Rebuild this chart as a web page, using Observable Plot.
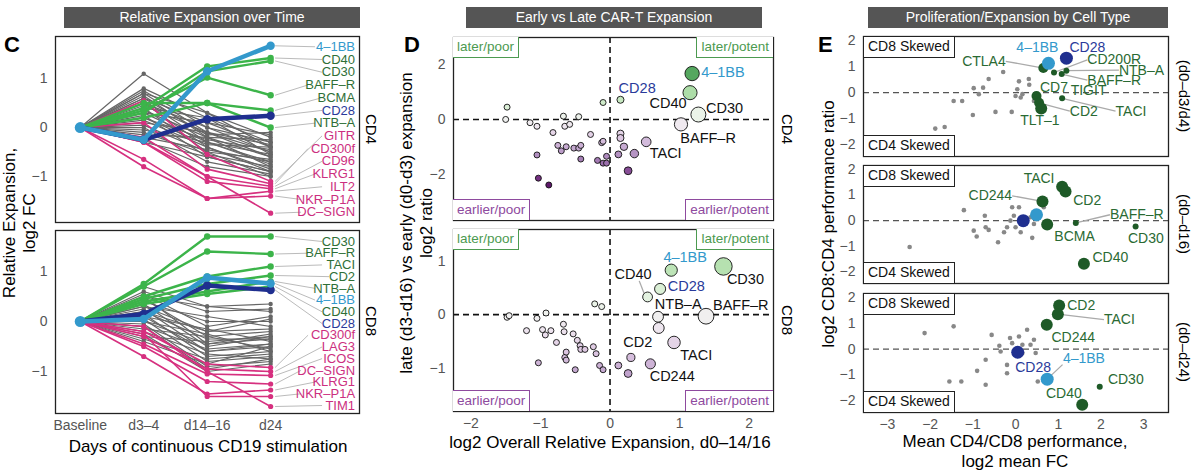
<!DOCTYPE html>
<html><head><meta charset="utf-8">
<script src="https://cdn.jsdelivr.net/npm/d3@7"></script>
<script src="https://cdn.jsdelivr.net/npm/@observablehq/plot@0.6"></script>
<style>
body{margin:0;background:#fff;font-family:"Liberation Sans",Arial,sans-serif;}
#c{position:relative;width:1200px;height:474px;overflow:hidden;}
.ab{position:absolute;white-space:nowrap;}
.bar{position:absolute;background:#555;color:#fff;font-size:14px;text-align:center;line-height:21px;height:21px;}
.rot{position:absolute;transform-origin:center center;white-space:nowrap;text-align:center;}
.box{position:absolute;background:#fff;font-size:13.5px;line-height:19px;padding:0 4px;box-sizing:border-box;height:21px;white-space:nowrap;}
svg{overflow:visible}
</style></head><body><div id="c"></div>
<script>
const font = '"Liberation Sans", Arial, sans-serif';
// ---------- DATA ----------
const days = ["Baseline","d3–4","d14–16","d24"];
// Panel C, CD4
const cd4Names  = ["4–1BB","CD40","CD30","BAFF–R","BCMA","CD28","NTB–A","GITR","CD300f","CD96","KLRG1","ILT2","NKR–P1A","DC–SIGN"];
const cd4Groups = ["blue","green","green","green","green","navy","green","mag","mag","mag","mag","mag","mag","mag"];
const cd4Values = [[0,-0.25,1.15,1.67],[0,0.4,1.25,1.42],[0,0.3,1.15,1.36],[0,0.35,1.02,0.66],[0,0.2,0.5,0.35],[0,-0.25,0.17,0.24],[0,0.5,0.5,0.0],
 [0,0.55,-0.55,-1.1],[0,0.1,-0.85,-1.15],[0,-0.2,-1.0,-1.2],[0,-0.3,-1.1,-1.25],[0,-0.65,-1.45,-1.3],[0,-0.8,-1.45,-1.4],[0,-0.3,-1.0,-1.75]];
const cd4Gray = [[1.1,0.3,-0.4],[0.8,0.2,-0.3],[0.75,0.0,-0.5],[0.7,-0.1,-0.6],[0.7,0.3,-0.2],[0.65,-0.2,-0.8],[0.6,0.1,-0.4],[0.55,-0.3,-0.7],[0.5,-0.4,-0.9],[0.5,0.0,-0.3],[0.45,-0.1,-0.5],[0.4,-0.5,-1.0],[0.35,-0.2,-0.6],[0.3,-0.3,-0.75],[0.3,0.1,-0.15],[0.25,-0.6,-0.9],[0.2,-0.25,-0.45],[0.15,-0.4,-0.85],[0.1,-0.1,-0.35],[0.05,-0.5,-0.65],[0.0,-0.7,-0.95],[-0.05,-0.3,-0.55],[-0.1,-0.55,-0.8],[-0.15,-0.2,-0.25],[-0.2,-0.45,-0.7],[-0.25,-0.8,-1.0],[-0.3,-0.6,-0.9],[0.6,-0.15,-0.1],[0.4,0.2,-0.55],[0.2,-0.35,-0.4]];
// Panel C, CD8
const cd8Names  = ["CD30","BAFF–R","TACI","CD2","NTB–A","4–1BB","CD40","CD28","CD300f","LAG3","ICOS","DC–SIGN","KLRG1","NKR–P1A","TIM1"];
const cd8Groups = ["green","green","green","green","green","blue","green","navy","mag","mag","mag","mag","mag","mag","mag"];
const cd8Values = [[0,0.75,1.7,1.7],[0,0.7,1.4,1.35],[0,0.5,0.9,1.1],[0,0.45,0.75,0.92],[0,0.4,0.6,0.8],[0,0.05,0.88,0.76],[0,0.35,0.55,0.7],[0,0.15,0.72,0.63],
 [0,-0.2,-0.85,-0.92],[0,-0.3,-0.95,-1.0],[0,-0.45,-1.05,-1.08],[0,-0.5,-1.2,-1.25],[0,-0.7,-1.45,-1.37],[0,-0.25,-1.5,-1.5],[0,-0.1,-1.0,-1.7]];
const cd8Gray = [[0.7,0.3,0.35],[0.6,0.2,0.25],[0.55,-0.1,0.1],[0.5,0.3,0.2],[0.45,-0.3,-0.2],[0.4,0.0,0.0],[0.35,-0.5,-0.3],[0.3,-0.2,-0.15],[0.25,-0.6,-0.5],[0.2,-0.35,-0.35],[0.15,-0.7,-0.6],[0.1,-0.15,-0.4],[0.05,-0.8,-0.7],[0.0,-0.45,-0.25],[-0.05,-0.9,-0.8],[-0.1,-0.55,-0.45],[-0.15,-0.3,-0.55],[-0.2,-0.65,-0.75],[-0.25,-1.0,-0.85],[-0.3,-0.4,-0.3],[-0.35,-0.75,-0.65],[-0.4,-0.85,-0.5],[0.3,0.1,-0.1],[0.2,-0.2,0.05],[0.1,-0.6,-0.45],[0.0,-0.25,-0.6],[0.5,-0.45,-0.35],[-0.1,-0.95,-0.75]];
// Panel D: [x, y]
const dCD4 = [[1.18,1.68],[1.15,0.98],[1.27,0.18],[1.02,-0.18],[0.52,-0.82],[0.15,0.72],[-0.1,0.62],[-1.48,0.45],[-1.5,0.0],[-1.15,-0.12],[-1.05,-0.25],[-0.67,0.12],[-0.65,-0.25],[-0.58,-0.18],[-0.45,0.1],[-0.82,-0.48],[-0.75,-0.95],[-0.7,-1.15],[-0.63,-1.0],[-0.52,-1.05],[-0.45,-1.05],[-0.42,-0.95],[-0.28,-0.55],[-0.12,-0.85],[-0.1,-0.8],[0.15,-0.52],[0.15,-0.68],[0.2,-1.0],[0.12,-1.28],[0.35,-1.25],[-0.18,-1.5],[-0.1,-1.6],[-0.05,-1.6],[-0.05,-1.35],[-0.42,-1.45],[-1.05,-1.3],[-1.03,-2.15],[-0.88,-2.4],[0.26,-1.88]];
const dCD8 = [[1.63,0.9],[0.88,0.83],[0.72,0.48],[0.54,0.33],[0.69,-0.04],[1.38,-0.03],[0.7,-0.25],[0.92,-0.52],[0.58,-0.92],[0.3,-0.8],[0.26,-1.1],[0.12,-0.95],[-0.22,0.2],[-0.12,0.15],[-1.48,-0.05],[-1.45,-0.02],[-1.05,-0.07],[-0.92,0.03],[-1.2,-0.3],[-0.97,-0.28],[-0.93,-0.38],[-0.85,-0.3],[-0.77,-0.52],[-0.67,-0.18],[-0.66,-0.32],[-0.63,-0.7],[-0.65,-0.8],[-0.63,-0.85],[-0.53,-0.36],[-0.47,-0.48],[-0.43,-0.58],[-0.42,-0.65],[-0.36,-0.65],[-0.24,-0.6],[-0.2,-0.73],[-0.15,-0.95],[-0.1,-1.03],[-0.5,-1.03],[-1.03,-0.9]];
// Panel E: [x, y, kind]  g=other, s/M/L=green small/medium/large, b=4-1BB, n=CD28
const e1 = [[-1.88,-1.38,"g"],[-1.66,-1.32,"g"],[-1.45,-0.32,"g"],[-1.25,-0.32,"g"],[-1.0,-0.86,"g"],[-0.98,0.17,"g"],[-0.86,-0.06,"g"],[-0.76,0.19,"g"],[-0.63,0.52,"g"],[-0.47,-0.74,"g"],[-0.29,0.79,"g"],[-0.09,-0.74,"g"],[0.08,0.43,"g"],[0.04,0.13,"g"],[0,-0.13,"g"],[0.12,-0.19,"g"],[0.16,-0.06,"g"],[0.31,0.52,"g"],[0.32,0.3,"g"],[0.43,-0.32,"g"],
 [0.65,0.94,"M"],[0.9,0.77,"s"],[1.19,0.84,"s"],[1.08,0.71,"s"],[0.49,-0.13,"M"],[0.53,-0.26,"s"],[1.09,-0.22,"s"],[0.55,-0.39,"M"],[0.6,-0.61,"L"],[0.77,1.12,"b"],[1.19,1.32,"n"]];
const e2 = [[-2.48,-1.03,"g"],[-1.21,0.41,"g"],[-0.98,-0.39,"g"],[-0.91,-0.62,"g"],[-0.72,0.19,"g"],[-0.7,-0.26,"g"],[-0.63,-0.36,"g"],[-0.41,-0.84,"g"],[-0.27,-0.45,"g"],[-0.2,-0.26,"g"],[-0.12,0,"g"],[-0.04,0.19,"g"],[0.08,0.52,"g"],[-0.08,0.52,"g"],[0.12,-0.45,"g"],[0.39,-0.67,"g"],[0.43,-0.13,"g"],[0.66,0.52,"g"],[0.35,0.13,"g"],[0,-0.26,"g"],
 [1.09,1.32,"L"],[1.17,1.14,"L"],[0.63,0.75,"L"],[0.74,-0.15,"L"],[1.41,-0.09,"s"],[2.81,-0.23,"s"],[1.6,-1.68,"L"],[0.49,0.23,"b"],[0.18,0.0,"n"]];
const e3 = [[-2.13,0.62,"g"],[-1.45,0.88,"g"],[-1.55,-1.25,"g"],[-1.27,-1.25,"g"],[-0.9,-0.84,"g"],[-0.7,-0.41,"g"],[-0.7,-1.38,"g"],[-0.56,0.55,"g"],[-0.38,0.13,"g"],[-0.35,-0.09,"g"],[-0.2,-0.61,"g"],[-0.2,-0.93,"g"],[-0.13,0.43,"g"],[-0.08,0.23,"g"],[0.08,0.49,"g"],[0.16,-0.15,"g"],[0.27,0.75,"g"],[0.35,0.17,"g"],[0.43,0.36,"g"],[0.47,-0.15,"g"],[0.52,-1.25,"g"],[0.16,0.17,"g"],
 [1.02,1.69,"L"],[0.99,1.35,"L"],[0.73,0.94,"L"],[1.97,-1.45,"s"],[1.56,-2.15,"L"],[0.74,-1.16,"b"],[0.05,-0.12,"n"]];
// ---------- LAYOUT (labels) ----------
const dLab4 = [["4–1BB",1.31,1.72,"start","b"],["CD28",0.39,1.13,"middle","n"],["CD40",1.1,0.6,"end","k"],["CD30",1.38,0.4,"start","k"],["BAFF–R",1.01,-0.68,"start","k"],["TACI",0.57,-1.23,"start","k"]];
const dLab8 = [["4–1BB",1.08,1.07,"middle","b"],["CD40",0.33,0.76,"middle","k",0.5,0.36,0.42,0.63],["CD28",0.83,0.52,"start","n"],["NTB–A",0.98,0.19,"middle","k"],["BAFF–R",1.48,0.17,"start","k"],["CD30",1.68,0.65,"start","k"],["CD2",0.4,-0.51,"middle","k"],["TACI",1.01,-0.76,"start","k"],["CD244",0.57,-1.16,"start","k"]];
const eLab1 = [["4–1BB",0.51,1.72,"middle","b"],["CD28",1.68,1.72,"middle","n"],["CTLA4",-0.23,1.2,"end","s",0.65,0.94],["CD200R",1.68,1.25,"start","s",0.9,0.77],["NTB–A",2.42,0.86,"start","s",1.19,0.84],["BAFF–R",1.68,0.48,"start","s",1.08,0.71],["CD7",0.57,0.19,"start","s"],["TIGIT",1.29,0.09,"start","s"],["CD2",1.27,-0.71,"start","s",0.55,-0.39],["TACI",2.34,-0.71,"start","s",1.09,-0.22],["TLT–1",0.57,-1.07,"middle","s"]];
const eLab2 = [["TACI",0.55,1.65,"middle","s"],["CD2",1.35,0.8,"start","s"],["CD244",-0.08,0.97,"end","s",0.63,0.75],["BAFF–R",2.21,0.23,"start","s",1.41,-0.09],["BCMA",1.38,-0.61,"middle","s"],["CD30",3.05,-0.68,"middle","s"],["CD40",1.8,-1.45,"start","s"]];
const eLab3 = [["CD2",1.21,1.69,"start","s"],["TACI",2.07,1.14,"start","s",0.99,1.35],["CD244",1.35,0.46,"middle","s"],["4–1BB",1.6,-0.37,"middle","b",0.74,-1.16,1.1,-0.6],["CD28",0.41,-0.71,"middle","n"],["CD30",2.58,-1.19,"middle","s"],["CD40",1.13,-1.7,"middle","s"]];

// ---------- HELPERS ----------
const C = document.getElementById("c");
function div(cls, html, css){const d=document.createElement("div");d.className=cls;d.innerHTML=html;Object.assign(d.style,css);C.appendChild(d);return d;}
function place(box, opts, marks){
  const m={l:44,r:12,t:6,b:30};
  const [x0,y0,x1,y1]=box;
  const p=Plot.plot(Object.assign({width:x1-x0+m.l+m.r,height:y1-y0+m.t+m.b,marginLeft:m.l,marginRight:m.r,marginTop:m.t,marginBottom:m.b,
    style:{fontFamily:font,fontSize:"14px",background:"transparent",overflow:"visible"}},opts,{marks:[...marks,Plot.frame({stroke:"#222",strokeWidth:1.3})]}));
  Object.assign(p.style,{position:"absolute",left:(x0-m.l)+"px",top:(y0-m.t)+"px"});
  C.appendChild(p);
}
const intF=d=>d<0?"−"+(-d):String(d);
const axY=(t)=>Plot.axisY(t,{tickSize:0,tickPadding:8,color:"#555",fontSize:14,tickFormat:intF});
const axX=(t,f)=>Plot.axisX(t,{tickSize:0,tickPadding:7,color:"#555",fontSize:14,tickFormat:f});
const colC={gray:"#666",green:"#3cb44a",mag:"#d6307f",blue:"#3399cc",navy:"#1f2f8f"};
const txtC={green:"#2f6f37",mag:"#cc2f80",blue:"#3399cc",navy:"#2a3a9a",k:"#111",b:"#3399cc",n:"#2a3a9a",s:"#2a6a33"};

function panelC(box, yd, names, groups, vals, gray, lyTop, lyBot, showX){
  const rows=[];
  gray.forEach((g,k)=>[0,...g].forEach((v,i)=>rows.push({id:"g"+k,i,v,grp:"gray"})));
  vals.forEach((g,k)=>g.forEach((v,i)=>rows.push({id:names[k],i,v,grp:groups[k]})));
  const xd=[-0.39,4.4]; const kx=(box[2]-box[0])/(xd[1]-xd[0]);
  const n=names.length;
  const labs=names.map((nm,k)=>{const ly=lyTop+(lyBot-lyTop)*k/(n-1); const w=nm.length*7;
    return {nm,ly,v:vals[k][3],grp:groups[k],x2:4.33-(w+5)/kx};});
  const byG=g=>rows.filter(r=>r.grp===g);
  const marks=[];
  marks.push(Plot.link(labs,{x1:3.07,y1:"v",x2:"x2",y2:"ly",stroke:"#bbb",strokeWidth:1}));
  const sty={gray:[1.2,2.2],mag:[1.6,2.6],green:[2.4,3.2],navy:[4.5,4.2],blue:[4.5,4.2]};
  for(const g of ["gray","mag","green","navy","blue"]){
    const d=byG(g);
    marks.push(Plot.line(d,{x:"i",y:"v",z:"id",stroke:colC[g],strokeWidth:sty[g][0]}));
    marks.push(Plot.dot(d.filter(r=>r.i>0),{x:"i",y:"v",fill:colC[g],r:sty[g][1]}));
  }
  marks.push(Plot.dot([0],{x:0,y:0,fill:"#3399cc",r:5.5}));
  marks.push(Plot.text(labs,{x:4.33,y:"ly",text:"nm",textAnchor:"end",fill:d=>txtC[d.grp],fontSize:13}));
  marks.push(axY([-1,0,1]));
  if(showX) marks.push(axX([0,1,2,3],d=>days[d]));
  place(box,{x:{domain:xd,axis:null},y:{domain:yd,axis:null},color:{type:"identity"}},marks);
}
panelC([55,36,359,222],[-1.94,1.86],cd4Names,cd4Groups,cd4Values,cd4Gray,1.65,-1.73,false);
panelC([55,230,359,413],[-1.84,1.82],cd8Names,cd8Groups,cd8Values,cd8Gray,1.6,-1.68,true);

function labelMarks(labs){
  const withL=labs.filter(l=>l.length>5);
  return [Plot.link(withL,{x1:d=>d[5],y1:d=>d[6],x2:d=>d[7]??d[1],y2:d=>d[8]??d[2],stroke:"#aaa",strokeWidth:1.3})];
}
function labelText(labs,size){
  return ["start","middle","end"].map(a=>Plot.text(labs.filter(l=>l[3]===a),{x:d=>d[1],y:d=>d[2],text:d=>d[0],textAnchor:a,fill:d=>txtC[d[4]],fontSize:size}));
}
function panelD(box, yd, pts, labs, yt, showX){
  const marks=[
    Plot.ruleY([0],{stroke:"#111",strokeWidth:1.6,strokeDasharray:"6,4"}),
    Plot.ruleX([0],{stroke:"#111",strokeWidth:1.6,strokeDasharray:"6,4"}),
    ...labelMarks(labs),
    Plot.dot(pts,{x:d=>d[0],y:d=>d[1],r:d=>d[0],fill:d=>d[1],stroke:"#111",strokeWidth:0.9,sort:d=>d[0]}),
    ...labelText(labs,14.5),
    axY(yt)];
  if(showX) marks.push(axX([-2,-1,0,1,2],intF));
  place(box,{x:{domain:[-2.25,2.35],axis:null},y:{domain:yd,axis:null},
    r:{type:"linear",domain:[0,1.7],range:[3,9],clamp:true},
    color:{type:"diverging",scheme:"PRGn",domain:[-2.7,2.7],pivot:0}},marks);
}
panelD([453,37,773,220],[-3.7,3.0],dCD4,dLab4,[-2,0,2],false);
panelD([453,229,773,411],[-1.81,1.59],dCD8,dLab8,[-1,0,1],true);

const eCol={g:"#888",s:"#1e5a27",M:"#1e5a27",L:"#1e5a27",b:"#3399cc",n:"#1f2f8f"};
const eR={g:2.3,s:3,M:5,L:6,b:6.5,n:6.5};
function panelE(box, pts, labs, showX){
  const order=k=>"gsMLbn".indexOf(k);
  const marks=[
    Plot.ruleY([0],{stroke:"#555",strokeWidth:1.4,strokeDasharray:"6,4"}),
    ...labelMarks(labs),
    Plot.dot(pts,{x:d=>d[0],y:d=>d[1],fill:d=>eCol[d[2]],r:d=>eR[d[2]],sort:d=>order(d[2])}),
    ...labelText(labs,14),
    axY([-2,-1,0,1,2])];
  if(showX) marks.push(axX([-3,-2,-1,0,1,2,3],intF));
  place(box,{x:{domain:[-3.56,3.58],axis:null},y:{domain:[-2.45,2.15],axis:null},r:{type:"identity"},color:{type:"identity"}},marks);
}
panelE([863,36,1168,156],e1,eLab1,false);
panelE([863,165,1168,283],e2,eLab2,false);
panelE([863,293,1168,412],e3,eLab3,true);

// ---------- TEXT / ANNOTATIONS ----------
div("bar","Relative Expansion over Time",{left:"64px",top:"7px",width:"296px"});
div("bar","Early vs Late CAR-T Expansion",{left:"466px",top:"7px",width:"296px"});
div("bar","Proliferation/Expansion by Cell Type",{left:"868px",top:"7px",width:"300px"});
for(const [t,x] of [["C",4],["D",404],["E",818]]) div("ab",t,{left:x+"px",top:"32px",fontSize:"22px",fontWeight:"bold"});
div("ab","Days of continuous CD19 stimulation",{left:"25px",top:"437px",width:"366px",textAlign:"center",fontSize:"17px"});
div("ab","log2 Overall Relative Expansion, d0–14/16",{left:"420px",top:"433px",width:"380px",textAlign:"center",fontSize:"17px"});
div("ab","Mean CD4/CD8 performance,<br>log2 mean FC",{left:"835px",top:"432px",width:"360px",textAlign:"center",fontSize:"17px",lineHeight:"20px"});
div("rot","Relative Expansion,<br>log2 FC",{left:"-110px",top:"203px",width:"260px",fontSize:"17px",lineHeight:"20px",transform:"rotate(-90deg)"});
div("rot","late (d3-d16) vs early (d0-d3) expansion<br>log2 ratio",{left:"252px",top:"203px",width:"330px",fontSize:"17px",lineHeight:"20px",transform:"rotate(-90deg)"});
div("rot","log2 CD8:CD4 performance ratio",{left:"684px",top:"214px",width:"290px",fontSize:"17px",transform:"rotate(-90deg)"});
for(const [t,x,y] of [["CD4",371,129],["CD8",371,321],["CD4",787,129],["CD8",787,320],["(d0–d3/d4)",1184,96],["(d0–d16)",1184,224],["(d0–d24)",1184,352]])
  div("rot",t,{left:(x-60)+"px",top:(y-9)+"px",width:"120px",fontSize:"15px",lineHeight:"18px",transform:"rotate(90deg)"});
const grn="#4c9a50", pur="#8e4a9e";
for(const y0 of [37,229]){
  div("box","later/poor",{left:"453px",top:y0+"px",border:`1px solid ${grn}`,color:grn,borderTop:"none",borderLeft:"none"});
  div("box","later/potent",{right:(1200-773)+"px",top:y0+"px",border:`1px solid ${grn}`,color:grn,borderTop:"none",borderRight:"none"});
}
for(const y1 of [220,411]){
  div("box","earlier/poor",{left:"453px",top:(y1-21)+"px",border:`1px solid ${pur}`,color:pur,borderBottom:"none",borderLeft:"none"});
  div("box","earlier/potent",{right:(1200-773)+"px",top:(y1-21)+"px",border:`1px solid ${pur}`,color:pur,borderBottom:"none",borderRight:"none"});
}
for(const [t,b] of [[36,156],[165,283],[293,412]]){
  div("box","CD8 Skewed",{left:"864px",top:(t+1)+"px",border:"1.3px solid #222",borderTop:"none",borderLeft:"none",color:"#111",fontSize:"14px"});
  div("box","CD4 Skewed",{left:"864px",top:(b-21)+"px",border:"1.3px solid #222",borderBottom:"none",borderLeft:"none",color:"#111",fontSize:"14px"});
}
</script></body></html>
